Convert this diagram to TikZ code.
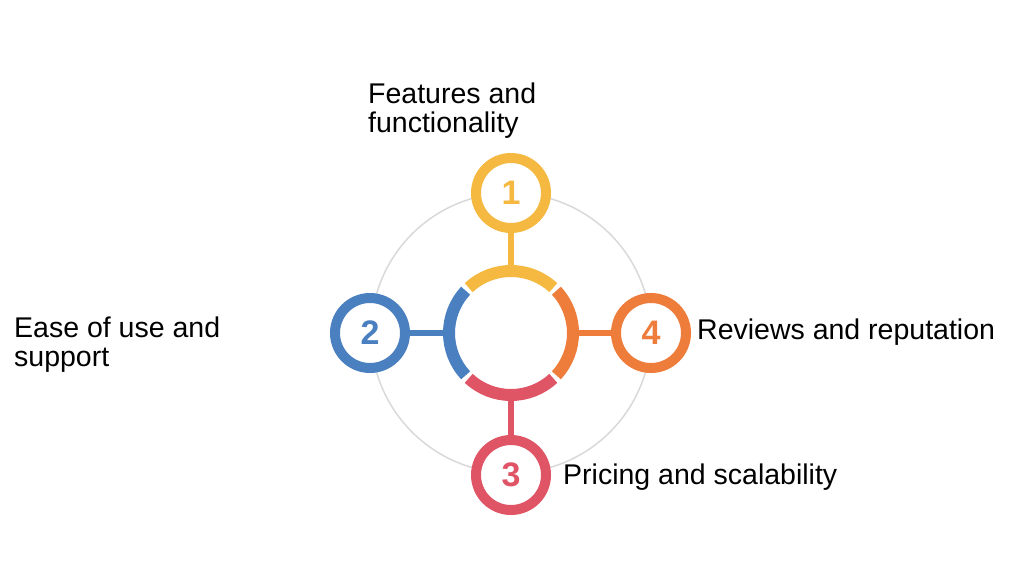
\documentclass[tikz,border=0pt]{standalone}
\usepackage{fontspec}
\setmainfont{Liberation Sans}
\definecolor{cyel}{HTML}{F5B942}
\definecolor{cblu}{HTML}{4A80C0}
\definecolor{cora}{HTML}{EE7D3C}
\definecolor{cred}{HTML}{E05566}
\begin{document}
\begin{tikzpicture}[x=1pt,y=-1pt,
  lbl/.style={font=\fontsize{28.5}{29}\selectfont, align=left, inner sep=0pt},
  num/.style={circle, minimum size=70pt, line width=10pt, draw=#1, fill=white, text=#1, font=\fontsize{34}{34}\selectfont\bfseries},
  arcseg/.style={line width=12pt, draw=#1}]
\useasboundingbox (0,0) rectangle (1024,575);
\coordinate (c) at (511,333);
\draw[gray!30, line width=1.5pt] (c) circle[radius=140];
\draw[arcseg=cyel] (511,333) ++(-47:62) arc[start angle=-47, end angle=-133, radius=62];
\draw[arcseg=cred] (511,333) ++(47:62) arc[start angle=47, end angle=133, radius=62];
\draw[arcseg=cblu] (511,333) ++(137:62) arc[start angle=137, end angle=223, radius=62];
\draw[arcseg=cora] (511,333) ++(-43:62) arc[start angle=-43, end angle=43, radius=62];
\draw[cyel, line width=6pt] (511,230) -- (511,272);
\draw[cred, line width=6pt] (511,394) -- (511,436);
\draw[cblu, line width=6pt] (408,333) -- (450,333);
\draw[cora, line width=6pt] (572,333) -- (614,333);
\node[num=cyel] (n1) at (511,193) {1};
\node[num=cblu] (n2) at (370,333) {2};
\node[num=cred] (n3) at (511,475) {3};
\node[num=cora] (n4) at (651,333) {4};
\node[lbl, anchor=north west] (t1) at (368,83) {Features and\\functionality};
\node[lbl, anchor=west] (t2) at (14,345) {Ease of use and\\support};
\node[lbl, anchor=west] (t4) at (697,332) {Reviews and reputation};
\node[lbl, anchor=west] (t3) at (563,477) {Pricing and scalability};
\end{tikzpicture}
\end{document}
